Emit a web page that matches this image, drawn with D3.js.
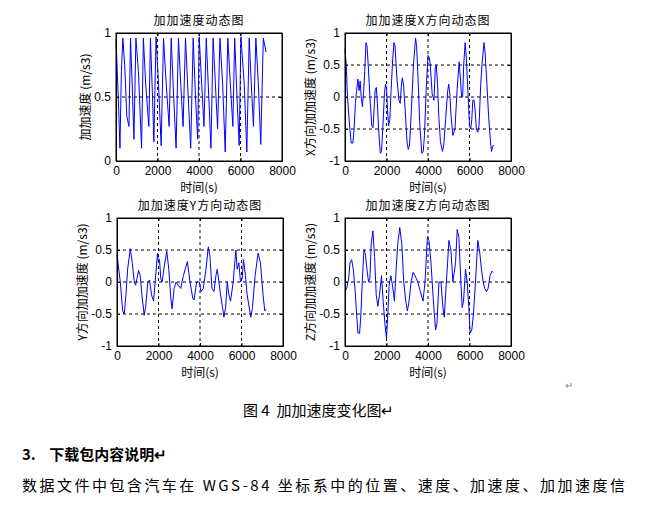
<!DOCTYPE html>
<html><head><meta charset="utf-8">
<script src="https://cdn.jsdelivr.net/npm/d3@7"></script>
<style>
body{margin:0;background:#fff;}
text{font-family:"Liberation Sans",Arial,sans-serif;white-space:pre;}
.cjk{font-family:"Noto Sans CJK SC",sans-serif;}
</style></head>
<body><div id="chart"></div>
<script>
// [time (s), jerk]
const jerkAll = [[0,0.95],[50,0.75],[130,0.4],[190,0.1],[260,0.7],[330,0.96],[420,0.75],[520,0.35],[624,0.27],[700,0.96],[780,0.6],[864,0.17],[960,0.96],[1080,0.7],[1232,0.1],[1320,0.96],[1430,0.6],[1584,0.27],[1660,0.96],[1760,0.5],[1824,0.15],[1930,0.97],[2050,0.6],[2176,0.12],[2290,0.96],[2420,0.6],[2560,0.27],[2660,0.96],[2780,0.5],[2896,0.1],[3010,0.96],[3120,0.6],[3232,0.27],[3350,0.96],[3480,0.5],[3600,0.1],[3720,0.96],[3830,0.5],[3936,0.17],[4010,0.97],[4130,0.6],[4240,0.27],[4350,0.96],[4470,0.5],[4576,0.1],[4680,0.96],[4790,0.6],[4896,0.25],[5010,0.96],[5140,0.6],[5264,0.07],[5390,0.96],[5510,0.6],[5632,0.27],[5720,0.96],[5830,0.5],[5936,0.12],[6020,0.97],[6180,0.6],[6304,0.07],[6420,0.96],[6520,0.6],[6624,0.27],[6740,0.96],[6860,0.6],[6976,0.13],[7100,0.96],[7232,0.85]];
const jerkX = [[0,0.75],[60,0.5],[120,0.0],[220,-0.45],[300,-0.72],[380,-0.72],[440,-0.5],[500,-0.1],[560,0.1],[620,0.28],[680,0.1],[730,0.25],[780,0.0],[840,-0.15],[900,0.1],[950,0.4],[1010,0.85],[1060,0.8],[1120,0.5],[1200,0.0],[1290,-0.45],[1350,-0.48],[1400,-0.2],[1450,0.1],[1510,0.15],[1560,-0.1],[1620,-0.5],[1700,-0.88],[1760,-0.85],[1820,-0.5],[1900,0.05],[1950,0.2],[2000,0.15],[2050,-0.2],[2100,-0.45],[2160,-0.35],[2220,0.1],[2300,0.6],[2360,0.85],[2410,0.8],[2500,0.3],[2600,-0.05],[2660,-0.1],[2710,0.15],[2760,0.3],[2820,0.2],[2900,-0.2],[2990,-0.7],[3050,-0.82],[3110,-0.75],[3200,-0.2],[3300,0.5],[3400,0.92],[3450,0.8],[3520,0.3],[3600,-0.4],[3700,-0.88],[3770,-0.85],[3830,-0.6],[3910,0.1],[4000,0.65],[4060,0.62],[4110,0.5],[4200,0.05],[4290,-0.05],[4350,0.45],[4400,0.5],[4460,0.2],[4520,-0.3],[4600,-0.7],[4700,-0.85],[4760,-0.75],[4850,-0.35],[4950,0.1],[5000,0.2],[5050,0.05],[5110,-0.3],[5200,-0.6],[5300,-0.5],[5400,0.1],[5500,0.55],[5560,0.3],[5620,0.0],[5670,0.0],[5720,0.5],[5790,0.85],[5850,0.6],[5920,0.1],[6000,-0.45],[6060,-0.5],[6110,-0.35],[6160,-0.05],[6220,-0.05],[6270,-0.2],[6330,-0.5],[6400,-0.55],[6460,-0.45],[6540,0.2],[6600,0.5],[6700,0.85],[6750,0.7],[6840,0.2],[6920,-0.3],[7000,-0.65],[7060,-0.85],[7110,-0.78],[7160,-0.75]];
const jerkY = [[0,0.42],[160,0.0],[272,-0.45],[352,-0.5],[432,-0.2],[512,0.2],[640,0.52],[736,0.3],[832,0.0],[896,-0.05],[960,0.05],[1040,0.18],[1120,0.1],[1200,-0.2],[1312,-0.52],[1376,-0.4],[1488,0.0],[1568,0.03],[1664,-0.2],[1760,-0.3],[1840,0.0],[1952,0.45],[2000,0.3],[2048,0.35],[2112,0.05],[2176,0.0],[2256,0.2],[2400,0.48],[2496,0.2],[2592,-0.25],[2656,-0.42],[2752,-0.1],[2848,0.0],[2944,-0.05],[3072,-0.1],[3200,0.1],[3392,0.32],[3520,0.0],[3648,-0.25],[3712,-0.28],[3840,0.0],[3968,0.0],[4048,-0.15],[4160,-0.1],[4288,0.2],[4400,0.55],[4480,0.4],[4576,-0.1],[4672,-0.15],[4768,0.1],[4832,0.2],[4912,0.0],[4992,-0.2],[5088,-0.4],[5152,-0.55],[5232,-0.4],[5312,0.0],[5392,-0.2],[5472,-0.3],[5600,0.0],[5728,0.5],[5792,0.2],[5872,0.3],[5952,0.0],[6032,0.05],[6096,0.35],[6192,0.1],[6272,-0.2],[6448,-0.55],[6528,-0.4],[6656,0.1],[6800,0.45],[6912,0.3],[7040,-0.2],[7120,-0.45],[7200,-0.42]];
const jerkZ = [[0,-0.15],[80,-0.1],[176,0.05],[240,0.3],[320,0.35],[400,0.2],[480,-0.1],[560,-0.5],[624,-0.8],[704,-0.8],[768,-0.5],[832,0.0],[912,0.5],[976,0.45],[1056,0.2],[1136,0.0],[1200,0.05],[1264,0.6],[1344,0.8],[1424,0.4],[1504,-0.2],[1584,-0.38],[1664,-0.2],[1760,0.1],[1840,-0.3],[1936,-0.7],[2000,-0.88],[2064,-0.5],[2128,-0.05],[2208,0.1],[2288,-0.05],[2384,-0.3],[2464,0.2],[2544,0.6],[2640,0.85],[2736,0.6],[2832,0.0],[2928,-0.3],[3008,-0.45],[3088,-0.3],[3184,0.0],[3280,0.15],[3376,0.1],[3504,0.0],[3632,-0.15],[3760,-0.3],[3856,0.0],[3968,0.7],[4048,0.65],[4144,0.3],[4240,-0.2],[4304,-0.5],[4368,-0.75],[4432,-0.65],[4528,0.0],[4624,0.0],[4720,-0.4],[4784,-0.55],[4848,-0.2],[4944,0.3],[5008,0.65],[5104,0.5],[5200,0.0],[5328,0.3],[5408,0.82],[5488,0.7],[5584,0.0],[5648,-0.4],[5712,-0.3],[5808,0.2],[5888,0.0],[5968,-0.4],[6032,-0.8],[6112,-0.75],[6192,-0.5],[6288,0.0],[6400,0.65],[6496,0.45],[6576,0.2],[6656,0.0],[6736,-0.1],[6816,-0.15],[6896,-0.1],[6992,0.1],[7088,0.17],[7152,0.15]];

const xTicks = [0, 2000, 4000, 6000, 8000];
const panels = [
  {title: "加加速度动态图", ylab: "加加速度 (m/s3)", data: jerkAll, dom: [0, 1], ticks: [0, 0.5, 1], box: [116, 33]},
  {title: "加加速度X方向动态图", ylab: "X方向加加速度 (m/s3)", data: jerkX, dom: [-1, 1], ticks: [-1, -0.5, 0, 0.5, 1], box: [345, 33]},
  {title: "加加速度Y方向动态图", ylab: "Y方向加加速度 (m/s3)", data: jerkY, dom: [-1, 1], ticks: [-1, -0.5, 0, 0.5, 1], box: [117, 218]},
  {title: "加加速度Z方向动态图", ylab: "Z方向加加速度 (m/s3)", data: jerkZ, dom: [-1, 1], ticks: [-1, -0.5, 0, 0.5, 1], box: [345, 218]}
];
const W = 166, H = 128;

const svg = d3.select("#chart").append("svg").attr("width", 646).attr("height", 507);

panels.forEach(p => {
  const g = svg.append("g").attr("transform", `translate(${p.box[0]},${p.box[1]})`);
  const x = d3.scaleLinear().domain([0, 8000]).range([0, W]);
  const y = d3.scaleLinear().domain(p.dom).range([H, 0]);

  // dashed grid
  g.selectAll(".gx").data(xTicks.slice(1, -1)).enter().append("line")
    .attr("x1", d => x(d)).attr("x2", d => x(d)).attr("y1", 0).attr("y2", H)
    .attr("stroke", "#000").attr("stroke-dasharray", "3,3");
  g.selectAll(".gy").data(p.ticks.slice(1, -1)).enter().append("line")
    .attr("y1", d => y(d)).attr("y2", d => y(d)).attr("x1", 0).attr("x2", W)
    .attr("stroke", "#000").attr("stroke-dasharray", "3,3");

  g.append("path").datum(p.data)
    .attr("d", d3.line().x(d => x(d[0])).y(d => y(d[1])))
    .attr("fill", "none").attr("stroke", "#0000ff").attr("stroke-width", 1);

  const fmt = d => String(d);
  const ax = d3.axisBottom(x).tickValues(xTicks).tickSizeInner(-3).tickSizeOuter(0).tickPadding(5).tickFormat(fmt);
  const ay = d3.axisLeft(y).tickValues(p.ticks).tickSizeInner(-3).tickSizeOuter(0).tickPadding(5).tickFormat(fmt);
  [g.append("g").attr("transform", `translate(0,${H})`).call(ax),
   g.append("g").call(ay),
   g.append("g").call(d3.axisTop(x).tickValues(xTicks).tickSizeInner(-3).tickSizeOuter(0).tickFormat("")),
   g.append("g").attr("transform", `translate(${W},0)`).call(d3.axisRight(y).tickValues(p.ticks).tickSizeInner(-3).tickSizeOuter(0).tickFormat(""))
  ].forEach(a => {
    a.select(".domain").attr("stroke", "#000");
    a.selectAll("text").attr("font-size", 12).attr("fill", "#000").attr("font-family", "Liberation Sans, Arial, sans-serif");
  });
  g.append("rect").attr("width", W).attr("height", H).attr("fill", "none").attr("stroke", "#000");

  g.append("text").attr("class", "cjk").attr("x", W / 2).attr("y", -8).attr("text-anchor", "middle")
    .attr("font-size", 12).attr("letter-spacing", 1).text(p.title);
  g.append("text").attr("class", "cjk").attr("x", W / 2).attr("y", H + 31).attr("text-anchor", "middle")
    .attr("font-size", 12).text("时间(s)");
  g.append("text").attr("class", "cjk").attr("transform", `translate(${p.dom[0] < 0 ? -30 : -26},${H / 2}) rotate(-90)`)
    .attr("text-anchor", "middle").attr("font-size", 12).text(p.ylab);
});

// surrounding document text
svg.append("text").attr("x", 565).attr("y", 389).attr("font-size", 10).attr("fill", "#888").text("↵");
svg.append("text").attr("class", "cjk").attr("x", 243).attr("y", 416).attr("font-size", 15).text("图 4  加加速度变化图↵");
svg.append("text").attr("class", "cjk").attr("x", 22).attr("y", 460).attr("font-size", 15).attr("font-weight", "bold").text("3.    下载包内容说明↵");
svg.append("text").attr("class", "cjk").attr("x", 22).attr("y", 491).attr("font-size", 15)
  .attr("textLength", 603).attr("lengthAdjust", "spacing")
  .text("数据文件中包含汽车在 WGS-84 坐标系中的位置、速度、加速度、加加速度信");
</script></body></html>
